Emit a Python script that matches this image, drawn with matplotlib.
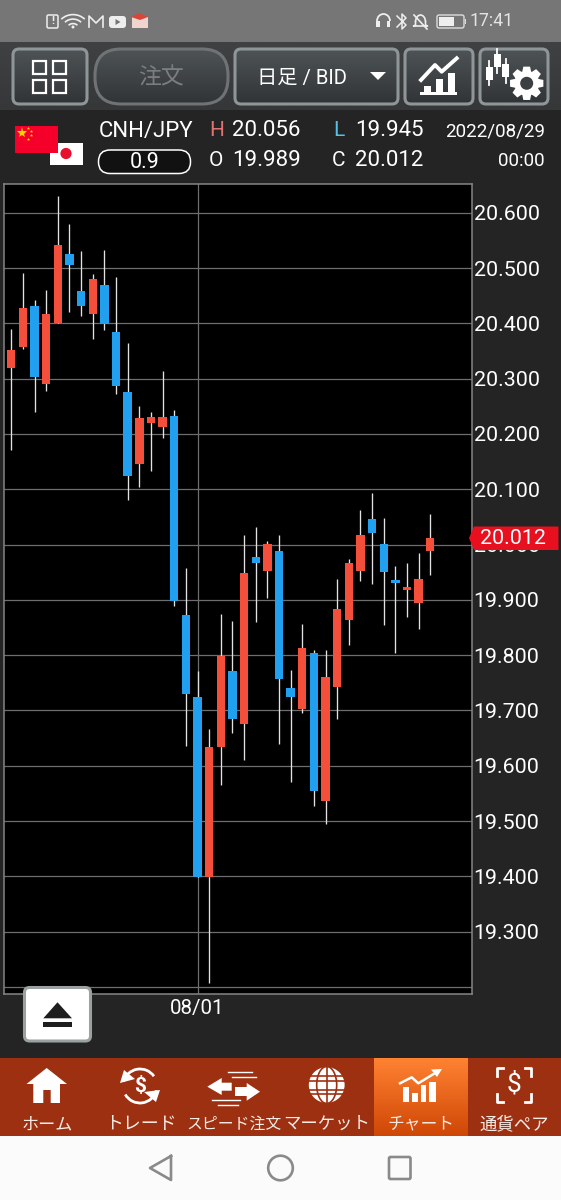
import numpy as np
import matplotlib
matplotlib.use('Agg')
import matplotlib.pyplot as plt
from matplotlib.patches import FancyBboxPatch, Rectangle, Polygon, Circle, Arc, Ellipse

plt.rcParams['font.family'] = ['Roboto', 'Noto Sans CJK JP', 'DejaVu Sans']

# daily CNH/JPY candles
opens = [20.319, 20.357, 20.431, 20.291, 20.400, 20.525, 20.458, 20.416, 20.470, 20.385,
         20.275, 20.145, 20.219, 20.213, 20.232, 19.873, 19.724, 19.399, 19.634, 19.772,
         19.675, 19.977, 19.952, 19.989, 19.740, 19.702, 19.804, 19.536, 19.742, 19.864,
         19.952, 20.046, 20.001, 19.936, 19.918, 19.894, 19.989]
highs = [20.390, 20.491, 20.443, 20.461, 20.630, 20.580, 20.531, 20.490, 20.533, 20.484,
         20.364, 20.250, 20.240, 20.313, 20.244, 19.957, 19.772, 19.666, 19.875, 19.861,
         20.017, 20.031, 20.007, 20.018, 19.773, 19.857, 19.809, 19.809, 19.938, 19.974,
         20.062, 20.093, 20.048, 19.961, 19.967, 19.984, 20.056]
lows = [20.170, 20.354, 20.239, 20.278, 20.400, 20.420, 20.413, 20.371, 20.387, 20.273,
        20.080, 20.104, 20.133, 20.192, 19.889, 19.636, 19.399, 19.207, 19.566, 19.660,
        19.611, 19.860, 19.904, 19.639, 19.571, 19.696, 19.527, 19.495, 19.684, 19.818,
        19.934, 19.929, 19.854, 19.804, 19.869, 19.847, 19.945]
closes = [20.351, 20.427, 20.302, 20.417, 20.542, 20.506, 20.431, 20.480, 20.398, 20.287,
          20.123, 20.229, 20.231, 20.231, 19.898, 19.730, 19.399, 19.634, 19.799, 19.684,
          19.948, 19.966, 20.001, 19.756, 19.724, 19.813, 19.554, 19.760, 19.883, 19.966,
          20.017, 20.020, 19.950, 19.930, 19.924, 19.937, 20.012]

grid_prices = [20.6, 20.5, 20.4, 20.3, 20.2, 20.1, 20.0, 19.9, 19.8, 19.7, 19.6, 19.5, 19.4, 19.3, 19.2]
price_labels = ['20.600', '20.500', '20.400', '20.300', '20.200', '20.100', '20.000', '19.900',
                '19.800', '19.700', '19.600', '19.500', '19.400', '19.300', '']
date_positions = [16]
date_labels = ['08/01']
tab_labels = ['ホーム', 'トレード', 'スピード注文', 'マーケット', 'チャート', '通貨ペア']
tab_centers = [47, 140.6, 233.6, 327, 420.7, 514]
tab_sizes = [12.3, 12.9, 11.4, 12.5, 12.1, 12.5]

UP = '#f44f3a'
DOWN = '#22a0f0'
WHITE = '#ffffff'
BROWN = '#9e3012'

fig = plt.figure(figsize=(5.61, 12), dpi=100, facecolor='#252525')


def pixel_axes(z):
    a = fig.add_axes([0, 0, 1, 1], zorder=z)
    a.set_xlim(0, 561)
    a.set_ylim(1200, 0)
    a.axis('off')
    a.patch.set_alpha(0)
    return a


ui = pixel_axes(0)
top = pixel_axes(5)


def gradient(a, x0, y0, x1, y1, c0, c1, clip=None):
    c0 = np.array(matplotlib.colors.to_rgb(c0))
    c1 = np.array(matplotlib.colors.to_rgb(c1))
    t = np.linspace(0, 1, 64)[:, None, None]
    img = c0[None, None, :] * (1 - t) + c1[None, None, :] * t
    im = a.imshow(img, extent=(x0, x1, y1, y0), origin='upper', aspect='auto', zorder=1,
                  interpolation='bilinear')
    if clip is not None:
        im.set_clip_path(clip)
    a.set_xlim(0, 561)
    a.set_ylim(1200, 0)


def button(x0, y0, x1, y1, rad=6, edge='#8f9698'):
    fill = FancyBboxPatch((x0, y0), x1 - x0, y1 - y0, boxstyle='round,pad=0,rounding_size=%g' % rad,
                          fc='none', ec='none', transform=ui.transData)
    ui.add_patch(fill)
    gradient(ui, x0, y0, x1, y1, '#4e5356', '#313437', clip=fill)
    ui.add_patch(FancyBboxPatch((x0, y0), x1 - x0, y1 - y0, boxstyle='round,pad=0,rounding_size=%g' % rad,
                                fc='none', ec=edge, lw=2.2, zorder=2))


def rect(a, x0, y0, x1, y1, **kw):
    kw.setdefault('lw', 0)
    kw.setdefault('zorder', 3)
    a.add_patch(Rectangle((x0, y0), x1 - x0, y1 - y0, **kw))


def poly(a, pts, color=WHITE, z=3):
    a.add_patch(Polygon(pts, closed=True, fc=color, ec='none', zorder=z))


def gear(a, cx, cy, r_out, r_in, hole, fc=WHITE, hole_c='#3c3f42'):
    pts = []
    for k in range(8):
        ang = k * np.pi / 4 - np.pi / 2
        for d, r in [(-0.36, r_in), (-0.2, r_out), (0.2, r_out), (0.36, r_in)]:
            pts.append((cx + r * np.cos(ang + d), cy + r * np.sin(ang + d)))
    poly(a, pts, fc)
    a.add_patch(Circle((cx, cy), hole, fc=hole_c, ec='none', zorder=4))


# background bands
rect(ui, 0, 0, 561, 42, fc='#767676', zorder=0.5)
gradient(ui, 0, 42, 561, 110, '#3f4143', '#353739')
rect(ui, 0, 110, 561, 1058, fc='#242424', zorder=0.5)
rect(ui, 0, 1058, 561, 1136, fc=BROWN, zorder=0.5)
gradient(ui, 374, 1058, 467.5, 1136, '#ff8232', '#cf4706')
rect(ui, 0, 1136, 561, 1200, fc='#fbfbfb', zorder=0.5)

# status bar
ui.text(514, 21.5, '17:41', color='#e4e4e4', fontsize=12.8, ha='right', va='center', zorder=4)
ui.add_patch(FancyBboxPatch((437, 15), 27, 13, boxstyle='round,pad=0,rounding_size=2', fc='none', ec='#dddddd', lw=1))
rect(ui, 439, 17, 454, 26, fc='#eeeeee')
rect(ui, 465, 19, 466.5, 24, fc='#dddddd')
ui.add_patch(FancyBboxPatch((47, 15), 11, 13, boxstyle='round,pad=0,rounding_size=1.5', fc='none', ec='#eeeeee', lw=1.1))
ui.text(52.5, 21.5, '!', color='#eeeeee', fontsize=8, ha='center', va='center', weight='bold', zorder=4)
for r in (6, 11, 16):
    ui.add_patch(Arc((73, 29), 2 * r, 1.8 * r, theta1=220, theta2=320, ec='#eeeeee', lw=1.2, zorder=3))
ui.add_patch(Circle((73, 27), 1.5, fc='#eeeeee', ec='none', zorder=3))
ui.plot([89, 89, 96, 103, 103], [27, 16, 23, 16, 27], color='#eeeeee', lw=1.2, zorder=3)
ui.add_patch(FancyBboxPatch((109, 16), 17, 12, boxstyle='round,pad=0,rounding_size=3', fc='#eeeeee', ec='none', zorder=3))
poly(ui, [(115.5, 19), (115.5, 25), (120.5, 22)], '#767676', 4)
rect(ui, 132, 17, 148, 28, fc='#f0d5cf')
poly(ui, [(131, 17), (139, 13), (148, 17), (140, 20)], '#d8453a')
ui.add_patch(Arc((383.5, 21), 13, 14, theta1=180, theta2=360, ec='#eeeeee', lw=1.3, zorder=3))
rect(ui, 376.5, 21, 380, 27, fc='#eeeeee')
rect(ui, 387, 21, 390.5, 27, fc='#eeeeee')
ui.plot([397, 406, 402, 402, 406, 397], [16, 25, 29, 14, 18, 27], color='#eeeeee', lw=1.1, zorder=3)
ui.add_patch(Arc((420.5, 22), 10, 14, theta1=180, theta2=360, ec='#eeeeee', lw=1.2, zorder=3))
ui.plot([415.5, 415.5, 413.5, 427.5, 425.5, 425.5], [22, 25, 26, 26, 25, 22], color='#eeeeee', lw=1.2, zorder=3)
ui.plot([414, 427], [15, 29], color='#eeeeee', lw=1.2, zorder=3)

# toolbar
button(13, 49, 87, 104)
for x0 in (33, 53):
    for y0 in (61, 80):
        rect(ui, x0, y0, x0 + 13.5, y0 + 12.5, fc='none', ec=WHITE, lw=1.6)
button(95, 49, 228, 104, rad=26, edge='#6f7375')
ui.text(161, 77.5, '注文', color='#7b7d7f', fontsize=16.5, ha='center', va='center', zorder=4)
button(235, 49, 398, 104)
ui.text(302.5, 78, '日足 / BID', color=WHITE, fontsize=14.6, ha='center', va='center', zorder=4)
poly(ui, [(370, 72), (386, 72), (378, 80)])
button(405, 49, 473, 104)
rect(ui, 420, 91.5, 457, 95, fc=WHITE)
rect(ui, 424, 85.5, 431, 92, fc=WHITE)
rect(ui, 436, 79, 443, 92, fc=WHITE)
rect(ui, 448, 73, 455, 92, fc=WHITE)
ui.plot([421, 435, 441.7, 456.7], [80, 65, 71.7, 58.3], color=WHITE, lw=2.8, zorder=3)
button(480, 49, 548, 104)
for cx, cy in [(489.3, 73.3), (497.3, 60.7), (506, 70.7)]:
    ui.plot([cx, cx], [cy - 12, cy + 12], color=WHITE, lw=1.3, zorder=3)
    rect(ui, cx - 3.5, cy - 6.5, cx + 3.5, cy + 6.5, fc=WHITE)
gear(ui, 526.7, 83.3, 17, 12.5, 6.5)

# instrument header
rect(ui, 50, 143, 83, 165, fc=WHITE)
ui.add_patch(Circle((66, 153.5), 5.6, fc='#e8112d', ec='none', zorder=4))
rect(ui, 15.5, 125.5, 58, 153, fc='#f5002b', zorder=5)
ui.plot([22], [133], marker='*', ms=8, color='#ffd200', mew=0, zorder=6)
for px, py in [(28.5, 127.5), (31, 131), (31, 135), (28.5, 138.5)]:
    ui.plot([px], [py], marker='*', ms=2.5, color='#ffd200', mew=0, zorder=6)
ui.text(98.5, 131, 'CNH/JPY', color=WHITE, fontsize=15.9, va='center', zorder=4)
ui.text(209, 131, 'H', color='#e07272', fontsize=15, va='center', zorder=4)
ui.text(232.5, 131, '20.056', color=WHITE, fontsize=16, va='center', zorder=4)
ui.text(333, 131, 'L', color='#55c0e8', fontsize=15, va='center', zorder=4)
ui.text(355, 131, '19.945', color=WHITE, fontsize=16, va='center', zorder=4)
ui.text(545, 131, '2022/08/29', color=WHITE, fontsize=13.5, ha='right', va='center', zorder=4)
ui.add_patch(FancyBboxPatch((98.5, 150), 92, 23.5, boxstyle='round,pad=0,rounding_size=11.5', fc='#111111', ec=WHITE, lw=1.1, zorder=3))
ui.text(144.5, 162.5, '0.9', color=WHITE, fontsize=15.5, ha='center', va='center', zorder=4)
ui.text(209, 161, 'O', color=WHITE, fontsize=15, va='center', zorder=4)
ui.text(232.5, 161, '19.989', color=WHITE, fontsize=16, va='center', zorder=4)
ui.text(332, 161, 'C', color=WHITE, fontsize=15, va='center', zorder=4)
ui.text(355, 161, '20.012', color=WHITE, fontsize=16, va='center', zorder=4)
ui.text(545, 161, '00:00', color=WHITE, fontsize=13.5, ha='right', va='center', zorder=4)

# candle chart
ax = fig.add_axes([4 / 561, (1200 - 994) / 1200, 467.5 / 561, 810.5 / 1200], zorder=2)
ax.set_facecolor('black')
x = np.arange(len(opens))
o = np.array(opens)
c = np.array(closes)
colors = [UP if cl > op else DOWN for op, cl in zip(opens, closes)]
ax.vlines(x, lows, highs, color='#e2e2e2', lw=0.95, zorder=3)
ax.bar(x, np.abs(c - o), bottom=np.minimum(o, c), width=0.72, color=colors, zorder=4)
ax.set_xlim(-0.627, 39.54)
ax.set_ylim(19.1872, 20.6528)
ax.set_axisbelow(True)
ax.yaxis.tick_right()
ax.set_yticks(grid_prices)
ax.set_yticklabels(price_labels, color=WHITE, fontsize=15.4, va='center_baseline')
ax.set_xticks(date_positions)
ax.set_xticklabels(date_labels, color=WHITE, fontsize=14.8)
ax.tick_params(axis='both', length=0)
ax.tick_params(axis='y', pad=1.5)
ax.tick_params(axis='x', pad=3.5)
ax.grid(True, color='#6e6e6e', lw=0.9)
for s in ax.spines.values():
    s.set_color('#858585')
    s.set_linewidth(1.1)

# last price tag and the eject button sit over the chart
poly(top, [(469, 538), (474, 526.5), (558.5, 526.5), (558.5, 550), (474, 550)], '#e8101e', 3)
top.text(512.5, 539, '%.3f' % closes[-1], color=WHITE, fontsize=15.4, ha='center', va='center', zorder=4)
top.add_patch(FancyBboxPatch((24.5, 987.5), 66, 53.5, boxstyle='round,pad=0,rounding_size=5', fc=WHITE, ec='#9ba1a1', lw=2.2, zorder=3))
poly(top, [(57.5, 1002.3), (43.3, 1018.3), (72, 1018.3)], '#1e1e1e', 4)
rect(top, 43.3, 1021.5, 72, 1026.7, fc='#1e1e1e', zorder=4)

# bottom tabs
for label, cx, size in zip(tab_labels, tab_centers, tab_sizes):
    ui.text(cx, 1124, label, color='#f8ece6', fontsize=size, ha='center', va='center', zorder=4,
            family=['Noto Sans CJK JP', 'DejaVu Sans'])

poly(ui, [(46.7, 1068), (26.5, 1084), (33.3, 1084), (33.3, 1103), (43.3, 1103), (43.3, 1090),
          (50.7, 1090), (50.7, 1103), (60, 1103), (60, 1084), (67, 1084)])

ui.add_patch(Arc((140, 1086), 34, 34, theta1=195, theta2=325, ec=WHITE, lw=2, zorder=3))
ui.add_patch(Arc((140, 1086), 34, 34, theta1=15, theta2=150, ec=WHITE, lw=2, zorder=3))
poly(ui, [(120, 1083), (135, 1079), (124, 1070)])
poly(ui, [(160, 1090), (144, 1092), (156, 1102)])
ui.text(140, 1086, '$', color=WHITE, fontsize=15, ha='center', va='center', weight='bold', zorder=4)

poly(ui, [(207.3, 1086.7), (221.7, 1078), (221.7, 1082.7), (231.7, 1082.7), (231.7, 1090.7), (221.7, 1090.7), (221.7, 1095)])
poly(ui, [(260, 1091.7), (246.7, 1083), (246.7, 1087), (235, 1087), (235, 1096), (246.7, 1096), (246.7, 1100.7)])
ui.plot([228, 252], [1072, 1072], color=WHITE, lw=1, zorder=3)
ui.plot([232, 256], [1077, 1077], color=WHITE, lw=1, zorder=3)
ui.plot([212, 240], [1100, 1100], color=WHITE, lw=1, zorder=3)
ui.plot([218, 238], [1105, 1105], color=WHITE, lw=1, zorder=3)

ui.add_patch(Circle((326.7, 1085), 18.5, fc=WHITE, ec='none', zorder=3))
for yy in (1076, 1085 - 4.5, 1085 + 4.5, 1094):
    ui.plot([306, 347], [yy, yy], color=BROWN, lw=1.2, zorder=4)
ui.add_patch(Ellipse((326.7, 1085), 20, 37, fc='none', ec=BROWN, lw=1.2, zorder=4))
ui.plot([326.7, 326.7], [1066, 1104], color=BROWN, lw=1.2, zorder=4)
ui.add_patch(Circle((326.7, 1085), 20, fc='none', ec=BROWN, lw=3, zorder=4))

rect(ui, 403.3, 1086.7, 409.3, 1102, fc=WHITE, zorder=4)
rect(ui, 412.3, 1092.7, 418, 1102, fc=WHITE, zorder=4)
rect(ui, 420.7, 1085, 426, 1102, fc=WHITE, zorder=4)
rect(ui, 429, 1081.7, 436, 1102, fc=WHITE, zorder=4)
ui.plot([400, 411.7, 418.3, 436], [1083.3, 1077.3, 1083.3, 1072.5], color=WHITE, lw=1.8, zorder=4)
poly(ui, [(442, 1069), (431, 1069.5), (437, 1077)], WHITE, 4)

for sx, sy in [(-1, -1), (1, -1), (-1, 1), (1, 1)]:
    ui.plot([514 + sx * 11, 514 + sx * 17, 514 + sx * 17], [1085 + sy * 17, 1085 + sy * 17, 1085 + sy * 9],
            color=WHITE, lw=2, zorder=3)
ui.text(514, 1084.5, '$', color=WHITE, fontsize=19, ha='center', va='center', zorder=4)

# android nav buttons
ui.plot([171, 150, 171, 171], [1156, 1168, 1180, 1156], color='#8a8a8a', lw=1.9, zorder=3, solid_joinstyle='round')
ui.add_patch(Circle((280.5, 1168), 12.3, fc='none', ec='#8a8a8a', lw=1.9, zorder=3))
ui.add_patch(FancyBboxPatch((389, 1157), 21.5, 22, boxstyle='round,pad=0,rounding_size=1.5', fc='none', ec='#8a8a8a', lw=1.9, zorder=3))

fig.savefig('out.png', dpi=100, facecolor=fig.get_facecolor())
